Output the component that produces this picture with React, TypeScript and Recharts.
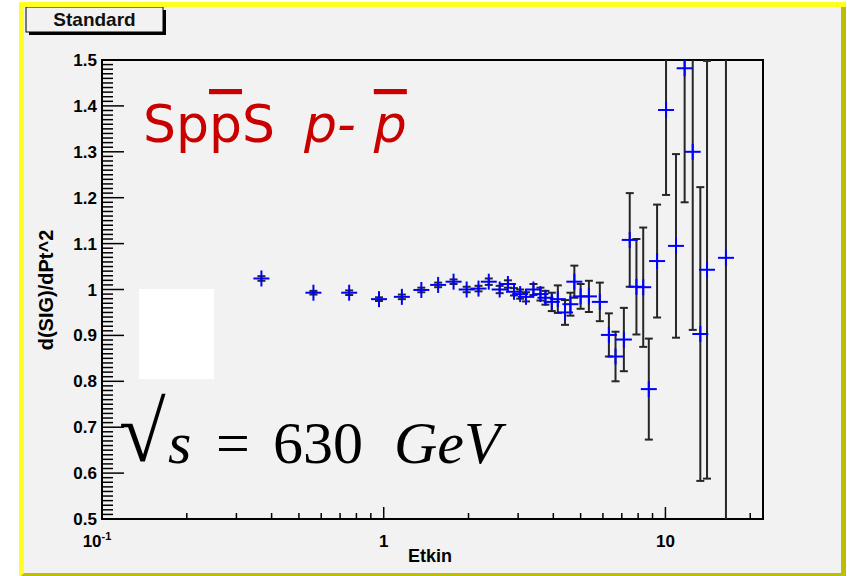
import React from "react";
import { ScatterChart, Scatter, XAxis, YAxis, ErrorBar, ReferenceArea } from "recharts";

// Etkin (x) values of the points
const etkin = [
  0.368, 0.563, 0.754, 0.962, 1.16, 1.36, 1.56, 1.77, 1.97, 2.17, 2.36, 2.58, 2.76,
  2.9, 3.05, 3.2, 3.4, 3.6, 3.75, 3.95, 4.15, 4.4, 4.6, 4.75, 5.0, 5.35, 5.85,
  6.3, 6.65, 7.12, 7.47, 7.89, 8.34, 8.73, 9.34, 10.05, 10.9, 11.7, 12.5, 13.3, 14.05, 16.4,
];
// d(SIG)/dPt^2 ratio
const ratio = [
  1.024, 0.993, 0.993, 0.979, 0.984, 0.999, 1.01, 1.017, 1.0, 1.002, 1.017, 1.0, 1.012,
  0.995, 0.99, 0.984, 1.0, 0.99, 0.982, 0.973, 0.979, 0.95, 0.968, 1.017, 0.985, 0.985, 0.973,
  0.901, 0.854, 0.891, 1.108, 1.006, 1.005, 0.783, 1.062, 1.391, 1.095, 1.482, 1.3, 0.903, 1.043, 1.069,
];
const ratioErr = [
  0.005, 0.004, 0.005, 0.004, 0.005, 0.005, 0.005, 0.005, 0.006, 0.006, 0.007, 0.008, 0.008,
  0.008, 0.01, 0.01, 0.012, 0.014, 0.015, 0.02, 0.03, 0.027, 0.025, 0.035, 0.027, 0.034, 0.042,
  0.047, 0.054, 0.069, 0.102, 0.104, 0.13, 0.11, 0.123, 0.185, 0.2, 0.292, 0.388, 0.32, 0.455, 0.8,
];

const xMajorTicks = [0.1, 1, 10];
const xMinorTicks = [0.2, 0.3, 0.4, 0.5, 0.6, 0.7, 0.8, 0.9, 2, 3, 4, 5, 6, 7, 8, 9, 20];
const yMajorTicks = [0.5, 0.6, 0.7, 0.8, 0.9, 1, 1.1, 1.2, 1.3, 1.4, 1.5];

// 10 subdivisions between major y ticks
const yTicks: number[] = [];
yMajorTicks.forEach((m, i) => {
  yTicks.push(m);
  if (i < yMajorTicks.length - 1) {
    for (let k = 1; k < 10; k++) yTicks.push(Math.round((m + k * 0.01) * 100) / 100);
  }
});

const data = etkin.map((x, i) => ({ x, y: ratio[i], err: ratioErr[i] }));

const FONT = "'Liberation Sans', Arial, sans-serif";

function XTick(props: any) {
  const { x, y, payload } = props;
  const v = payload.value;
  const major = xMajorTicks.includes(v);
  return (
    <g>
      <line x1={x} x2={x} y1={y} y2={y - (major ? 12 : 6)} stroke="#000" strokeWidth={1.5} />
      {major && v === 0.1 && (
        <text x={x - 5} y={y + 28} textAnchor="middle" fontFamily={FONT} fontWeight="bold" fontSize={17} fill="#000">
          10<tspan dy={-7} fontSize={11}>-1</tspan>
        </text>
      )}
      {major && v !== 0.1 && (
        <text x={x} y={y + 28} textAnchor="middle" fontFamily={FONT} fontWeight="bold" fontSize={17} fill="#000">
          {v}
        </text>
      )}
    </g>
  );
}

function YTick(props: any) {
  const { x, y, payload } = props;
  const v = payload.value;
  const major = Math.round(v * 100) % 10 === 0;
  return (
    <g>
      <line x1={x} x2={x + (major ? 22 : 11)} y1={y} y2={y} stroke="#000" strokeWidth={1.5} />
      {major && (
        <text x={x - 5} y={y + 6} textAnchor="end" fontFamily={FONT} fontWeight="bold" fontSize={17} fill="#000">
          {String(v)}
        </text>
      )}
    </g>
  );
}

function Cross(props: any) {
  const { cx, cy } = props;
  if (cx == null || cy == null) return <g />;
  return (
    <g>
      <line x1={cx - 8} x2={cx + 8} y1={cy} y2={cy} stroke="#0000ff" strokeWidth={2} />
      <line x1={cx} x2={cx} y1={cy - 8} y2={cy + 8} stroke="#0000ff" strokeWidth={2} />
    </g>
  );
}

export default function App() {
  return (
    <div style={{ position: "absolute", left: 0, top: 0, width: 847, height: 576, background: "#fff", overflow: "hidden" }}>
      <style>{`.recharts-errorBars, .recharts-errorBar, .recharts-scatter { clip-path: url(#plotClip); }`}</style>
      <svg width={847} height={576} style={{ position: "absolute", left: 0, top: 0 }}>
        <defs>
          <clipPath id="plotClip" clipPathUnits="userSpaceOnUse">
            <rect x={102} y={60} width={661} height={459} />
          </clipPath>
        </defs>
        <rect x={19} y={2} width={827} height={576} fill="#f2f2f2" />
        <polygon points="19,2 846,2 841,7 24,7 24,573 19,578" fill="#ffff22" />
        <polygon points="846,2 846,578 19,578 24,573 841,573 841,7" fill="#bebe00" />
        <rect x={29} y={10} width={137} height={25} fill="#000" />
        <rect x={26} y={7} width={137} height={25} fill="#f2f2f2" stroke="#000" strokeWidth={1} />
        <rect x={19} y={2} width={827} height={5} fill="#ffff22" />
        <text x={94.5} y={26} textAnchor="middle" fontFamily={FONT} fontWeight="bold" fontSize={19} fill="#111">
          Standard
        </text>
      </svg>
      <div style={{ position: "absolute", left: 0, top: 0 }}>
        <ScatterChart width={847} height={576} margin={{ top: 60, right: 84, bottom: 0, left: 0 }}>
          <XAxis
            type="number"
            dataKey="x"
            scale="log"
            domain={[0.1, 22.2]}
            allowDataOverflow
            ticks={[...xMajorTicks, ...xMinorTicks]}
            interval={0}
            tickSize={0}
            tickMargin={0}
            axisLine={false}
            tickLine={false}
            tick={<XTick />}
            height={57}
          />
          <YAxis
            type="number"
            dataKey="y"
            domain={[0.5, 1.5]}
            allowDataOverflow
            ticks={yTicks}
            interval={0}
            tickSize={0}
            tickMargin={0}
            axisLine={false}
            tickLine={false}
            tick={<YTick />}
            width={102}
          />
          <ReferenceArea x1={0.1} x2={22.2} y1={0.5} y2={1.5} fill="none" stroke="#000" strokeWidth={2} strokeOpacity={1} fillOpacity={0} />
          <Scatter data={data} shape={<Cross />} isAnimationActive={false}>
            <ErrorBar dataKey="err" direction="y" width={4} stroke="#262626" strokeWidth={2} />
          </Scatter>
        </ScatterChart>
      </div>
      <svg width={847} height={576} style={{ position: "absolute", left: 0, top: 0, pointerEvents: "none" }}>
        <text
          x={53}
          y={290}
          transform="rotate(-90 53 290)"
          textAnchor="middle"
          fontFamily={FONT}
          fontWeight="bold"
          fontSize={20}
          fill="#000"
        >
          d(SIG)/dPt^2
        </text>
        <text x={452} y={562} textAnchor="end" fontFamily={FONT} fontWeight="bold" fontSize={18} fill="#000">
          Etkin
        </text>
        <rect x={139} y={289} width={75} height={90} fill="#fff" />
        <text x={143} y={142} fontFamily="'DejaVu Sans', sans-serif" fontSize={52} fill="#c80000">
          Sp<tspan style={{ textDecoration: "overline" }}>p</tspan>S
          <tspan dx={29} fontStyle="italic">p-</tspan>
          <tspan dx={18} fontStyle="italic" style={{ textDecoration: "overline" }}>p</tspan>
        </text>
        <g fontFamily="'Liberation Serif', 'Times New Roman', serif" fill="#000">
          <text x={119} y={461} fontSize={85}>√</text>
          <text x={168} y={463} fontSize={60} fontStyle="italic">s</text>
          <text x={216} y={463} fontSize={60}>=</text>
          <text x={273} y={463} fontSize={60}>630</text>
          <text x={394} y={463} fontSize={60} fontStyle="italic">GeV</text>
        </g>
      </svg>
    </div>
  );
}
